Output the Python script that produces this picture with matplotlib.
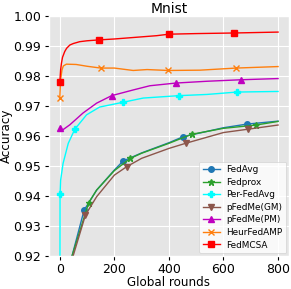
import matplotlib
matplotlib.use("Agg")
import matplotlib.pyplot as plt

plt.style.use("ggplot")

# FedMCSA
red_x = [0, 3, 6, 10, 18, 25, 37, 50, 73, 100, 144, 200, 355, 400, 500, 640, 800]
red_y = [0.9779, 0.9820, 0.9842, 0.9862, 0.9881, 0.9892, 0.9903, 0.9908, 0.9914, 0.9917,
         0.9920, 0.9923, 0.9934, 0.9939, 0.9941, 0.9943, 0.9946]
red_mk = [0, 10, 13, 15]

# HeurFedAMP
orange_x = [0, 3, 8, 13, 24, 60, 100, 150, 200, 269, 320, 397, 514, 646, 800]
orange_y = [0.9726, 0.9787, 0.9820, 0.9833, 0.9839, 0.9838, 0.9832, 0.9826, 0.9826,
            0.9818, 0.9821, 0.9818, 0.9819, 0.9826, 0.9831]
orange_mk = [0, 7, 11, 13]

# pFedMe(PM)
purple_x = [0, 8, 37, 85, 135, 190, 269, 330, 425, 539, 664, 800]
purple_y = [0.9626, 0.9618, 0.9637, 0.9676, 0.9709, 0.9734, 0.9753, 0.9767, 0.9776,
            0.9782, 0.9787, 0.9791]
purple_mk = [0, 5, 8, 10]

# Per-FedAvg
cyan_x = [0, 1, 3, 12, 31, 55, 98, 146, 232, 306, 437, 539, 650, 800]
cyan_y = [0.85, 0.9405, 0.9452, 0.9508, 0.9575, 0.9622, 0.9670, 0.9696, 0.9712,
          0.9726, 0.9734, 0.9738, 0.9746, 0.9748]
cyan_mk = [1, 5, 8, 10, 12]

# FedAvg
blue_x = [0, 20, 45, 89, 135, 200, 232, 300, 400, 452, 600, 685, 800]
blue_y = [0.85, 0.90, 0.92, 0.9352, 0.9419, 0.9486, 0.9516, 0.9543, 0.9577, 0.9597,
          0.9627, 0.9639, 0.9649]
blue_mk = [3, 6, 9, 11]

# Fedprox
green_x = [0, 20, 45, 106, 135, 200, 259, 300, 400, 483, 600, 719, 800]
green_y = [0.85, 0.90, 0.92, 0.9377, 0.9419, 0.9484, 0.9525, 0.9542, 0.9575, 0.9605,
           0.9625, 0.9636, 0.9648]
green_mk = [3, 6, 9, 11]

# pFedMe(GM)
brown_x = [0, 25, 49, 94, 135, 200, 245, 300, 400, 461, 600, 689, 800]
brown_y = [0.85, 0.90, 0.92, 0.9336, 0.9397, 0.9469, 0.9497, 0.9525, 0.9558, 0.9575,
           0.9611, 0.9622, 0.9636]
brown_mk = [3, 6, 9, 11]

fig = plt.figure(figsize=(2.91, 2.89), dpi=100)
ax = fig.add_axes([0.168, 0.115, 0.825, 0.83])

ms = 4
ax.plot(blue_x, blue_y, color="#1f77b4", marker="o", markevery=blue_mk, ms=ms, lw=1, label="FedAvg")
ax.plot(green_x, green_y, color="#2ca02c", marker="*", markevery=green_mk, ms=ms + 1, lw=1, label="Fedprox")
ax.plot(cyan_x, cyan_y, color="cyan", marker="P", markevery=cyan_mk, ms=ms, lw=1, label="Per-FedAvg")
ax.plot(brown_x, brown_y, color="#8c564b", marker="v", markevery=brown_mk, ms=ms, lw=1, label="pFedMe(GM)")
ax.plot(purple_x, purple_y, color="m", marker="^", markevery=purple_mk, ms=ms, lw=1, label="pFedMe(PM)")
ax.plot(orange_x, orange_y, color="#ff7f0e", marker="x", markevery=orange_mk, ms=ms, lw=1, label="HeurFedAMP")
ax.plot(red_x, red_y, color="r", marker="s", markevery=red_mk, ms=ms, lw=1, label="FedMCSA")

ax.set_xlim(-40, 840)
ax.set_ylim(0.92, 1.00)
ax.set_xticks([0, 200, 400, 600, 800])
ax.set_yticks([0.92, 0.93, 0.94, 0.95, 0.96, 0.97, 0.98, 0.99, 1.00])
ax.tick_params(labelsize=9, colors="black", pad=2.5, length=3)
ax.set_title("Mnist", fontsize=10, color="black", pad=2)
ax.set_xlabel("Global rounds", fontsize=8.6, color="black", labelpad=0)
ax.set_ylabel("Accuracy", fontsize=8.6, color="black", labelpad=0)
ax.legend(loc="lower right", fontsize=6.4, facecolor="white", framealpha=0.8,
          handlelength=1.9, borderpad=0.4, labelspacing=0.4, borderaxespad=0.3)

fig.savefig("out.png", dpi=100)
